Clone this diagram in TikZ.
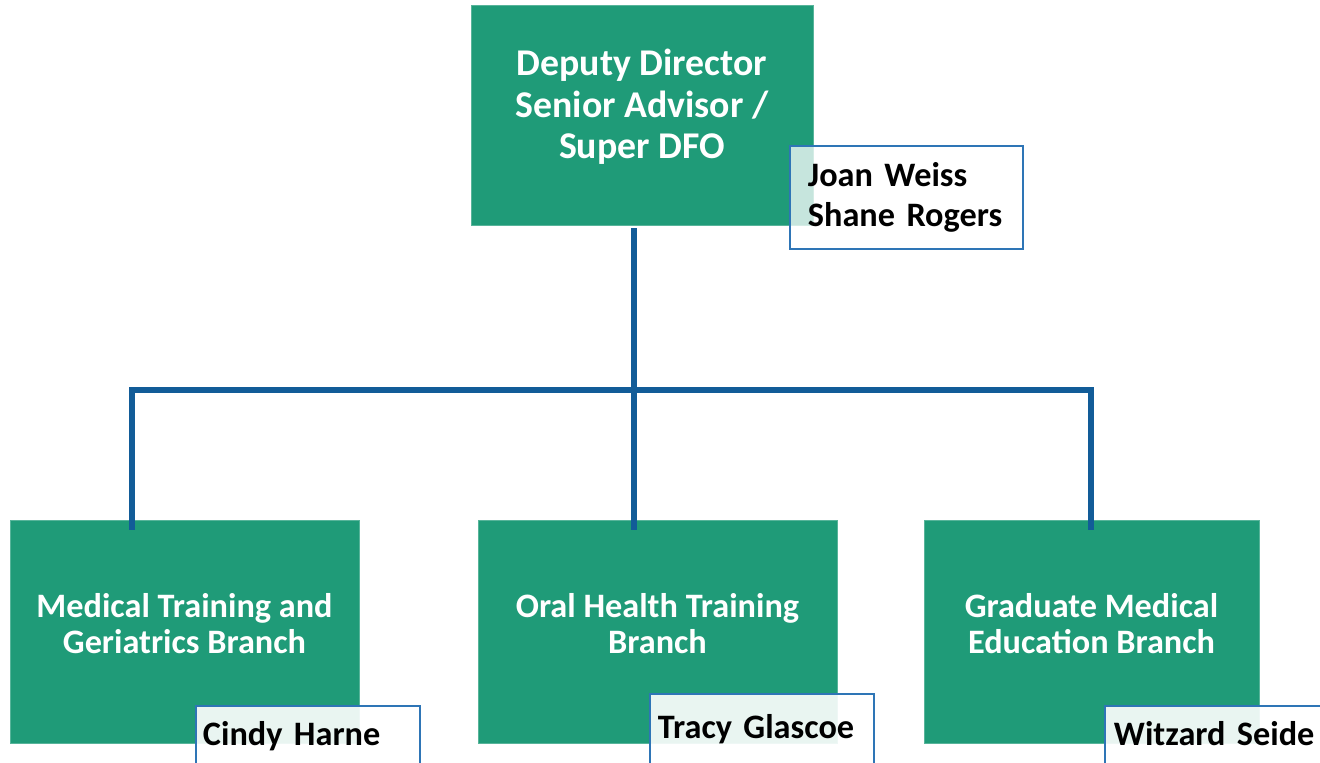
\documentclass[tikz,border=0pt]{standalone}
\usepackage{fontspec}
\setmainfont{Carlito}
\usepackage{tikz}
\definecolor{unitgreen}{RGB}{31,155,120}
\definecolor{linkblue}{RGB}{18,92,152}
\definecolor{nameblue}{RGB}{46,117,182}

\begin{document}
\begin{tikzpicture}[x=0.02cm,y=-0.02cm,
  unit/.style={fill=unitgreen, draw=unitgreen!75!white, line width=0.4pt,
    text=white, align=center, inner sep=0pt},
  topfont/.style={font=\bfseries\fontsize{21.5}{23.5}\selectfont, text depth=12.5pt},
  subfont/.style={font=\bfseries\fontsize{19.5}{20.5}\selectfont, text depth=9pt},
  namebox/.style={draw=nameblue, line width=1.1pt, fill=white, text opacity=1,
    text=black, align=left, anchor=north west,
    font=\bfseries\fontsize{19.5}{22.7}\selectfont},
  link/.style={draw=linkblue, line width=3.2pt}]

\useasboundingbox (0,0) rectangle (1320,763);

\node[unit, topfont, minimum width=6.84cm, minimum height=4.4cm] (dir) at (642,115)
{Deputy Director\\Senior Advisor /\\Super DFO};
\node[unit, subfont, minimum width=6.98cm, minimum height=4.46cm] (mtg) at (184.5,631.5)
{Medical Training and\\Geriatrics Branch};
\node[unit, subfont, minimum width=7.18cm, minimum height=4.46cm] (oht) at (657.5,631.5)
{Oral Health Training\\Branch};
\node[unit, subfont, minimum width=6.7cm, minimum height=4.46cm] (gme) at (1091.5,631.5)
{Graduate Medical\\Education Branch};

\node[namebox, fill opacity=0.75, minimum width=4.66cm, minimum height=2.06cm,
  inner xsep=0.36cm, text width=3.94cm] (dirnames) at (789,145)
{Joan Weiss\\Shane Rogers};
\node[namebox, fill opacity=0.9, inner xsep=0.14cm, inner ysep=10pt,
  text height=12.5pt, text depth=40pt, text width=4.2cm] (mtgname) at (195,705)
{Cindy Harne};
\node[namebox, fill opacity=0.9, inner xsep=0.16cm, inner ysep=13pt,
  text height=12.5pt, text depth=40pt, text width=4.16cm] (ohtname) at (649,693)
{Tracy Glascoe};
\node[namebox, fill opacity=0.9, inner xsep=0.18cm, inner ysep=10pt,
  text height=12.5pt, text depth=40pt, text width=4.6cm] (gmename) at (1104,705)
{Witzard Seide};

\coordinate (busL) at (132,390);
\coordinate (busM) at (634,390);
\coordinate (busR) at (1091,390);
\draw[link] ([yshift=-0.06cm]busM |- dir.south) -- (busM);
\draw[link] ([yshift=-0.2cm]busL |- mtg.north) -- (busL) -- (busR)
  -- ([yshift=-0.2cm]busR |- gme.north);
\draw[link] (busM) -- ([yshift=-0.2cm]busM |- oht.north);
\end{tikzpicture}
\end{document}
